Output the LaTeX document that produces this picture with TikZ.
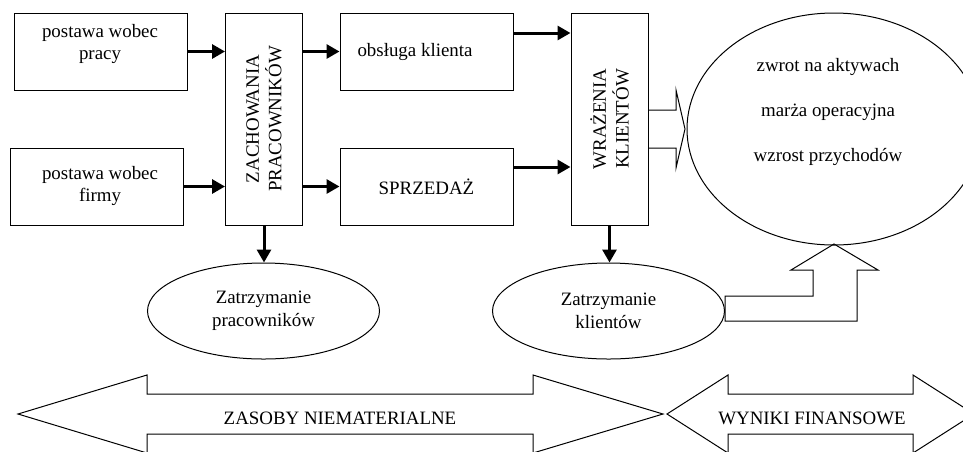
\documentclass[tikz,border=0pt]{standalone}
\usepackage{fontspec}
\setmainfont{Liberation Serif}
\usepackage{tikz}
\usetikzlibrary{shapes.geometric,arrows.meta,calc}

\begin{document}
\begin{tikzpicture}[
	%	style def
    x=1pt, y=-1pt,
    thin line/.style={line width=1pt},
    important line/.style={line width=3pt, -{Triangle[length=13pt,width=14pt]}},
    box/.style={draw, thin line, rectangle, minimum width=173pt, minimum height=77pt, inner sep=0pt},
    tall box/.style={draw, thin line, rectangle, minimum width=77pt, minimum height=212pt, inner sep=0pt},
    oval/.style={draw, thin line, ellipse, inner sep=0pt},
    txt/.style={align=center, inner sep=0pt, font=\fontsize{18.9}{22.7}\selectfont},
    every node/.style={color=black}
    ]
    \useasboundingbox (0,0) rectangle (963,451);
    \clip (0,0) rectangle (963,451);

	% boxes
    \node[box] (pracy) at (100.5,51.5) {};
    \node[box] (firmy) at (96.5,186.5) {};
    \node[tall box] (zach) at (264,119) {};
    \node[box] (obs) at (426.5,51.5) {};
    \node[box] (sprz) at (426.5,186.5) {};
    \node[tall box] (wraz) at (609.5,119) {};

    \node[txt] (pracyT) at (100,44) {postawa wobec\\pracy};
    \node[txt] (firmyT) at (100,186) {postawa wobec\\firmy};
    \node[txt, rotate=90] (zachT) at (zach) {ZACHOWANIA\\PRACOWNIKÓW};
    \node[txt] (obsT) at (415,51.5) {obsługa klienta};
    \node[txt] (sprzT) at (426.5,186.5) {SPRZEDAŻ};
    \node[txt, rotate=90] (wrazT) at (wraz) {WRAŻENIA\\KLIENTÓW};

    % ellipses
    \node[oval, txt, minimum width=232pt, minimum height=96pt] (zatP) at (263.5,311) {Zatrzymanie\\pracowników};
    \node[oval, txt, minimum width=232pt, minimum height=96pt] (zatK) at (608.5,311) {Zatrzymanie\\klientów};
    \node[oval, minimum width=294pt, minimum height=232pt] (fin) at (834,129) {};
    \node[txt] (finT) at (828,112) {zwrot na aktywach\\[22.3pt]marża operacyjna\\[22.3pt]wzrost przychodów};

    % connecting boxes
    \coordinate (o1) at ([yshift=18.5pt]obs.east);
    \coordinate (s1) at ([yshift=19.5pt]sprz.east);
    \draw[important line] (pracy.east) -- (pracy.east -| zach.west);
    \draw[important line] (firmy.east) -- (firmy.east -| zach.west);
    \draw[important line] (zach.east |- obs.west) -- (obs.west);
    \draw[important line] (zach.east |- sprz.west) -- (sprz.west);
    \draw[important line] (o1) -- (o1 -| wraz.west);
    \draw[important line] (s1) -- (s1 -| wraz.west);
    \draw[important line] (zach.south) -- (zach.south |- zatP.north);
    \draw[important line] (wraz.south) -- (wraz.south |- zatK.north);

    % hollow arrows into results
    \draw[thin line] (648,110) -- (676,110) -- (676,90) -- (685,129) -- (676,168) -- (676,148) -- (648,148);
    \draw[thin line] (725,321) -- (725,296) -- (813,296) -- (813,270) -- (791,270) -- (834,244) -- (878,270) -- (857,270) -- (857,321) -- cycle;

    % double arrows at the bottom
    \draw[thin line] (18,414) -- (147,375) -- (147,394) -- (533,394) -- (533,375) -- (663,414) -- (533,453) -- (533,434) -- (147,434) -- (147,453) -- cycle;
    \node[txt] (zasT) at (340,418) {ZASOBY NIEMATERIALNE};
    \draw[thin line] (667,414) -- (728,375) -- (728,394) -- (913,394) -- (913,375) -- (974,414) -- (913,453) -- (913,434) -- (728,434) -- (728,453) -- cycle;
    \node[txt] (wynT) at (812,418) {WYNIKI FINANSOWE};

\end{tikzpicture}
\end{document}
